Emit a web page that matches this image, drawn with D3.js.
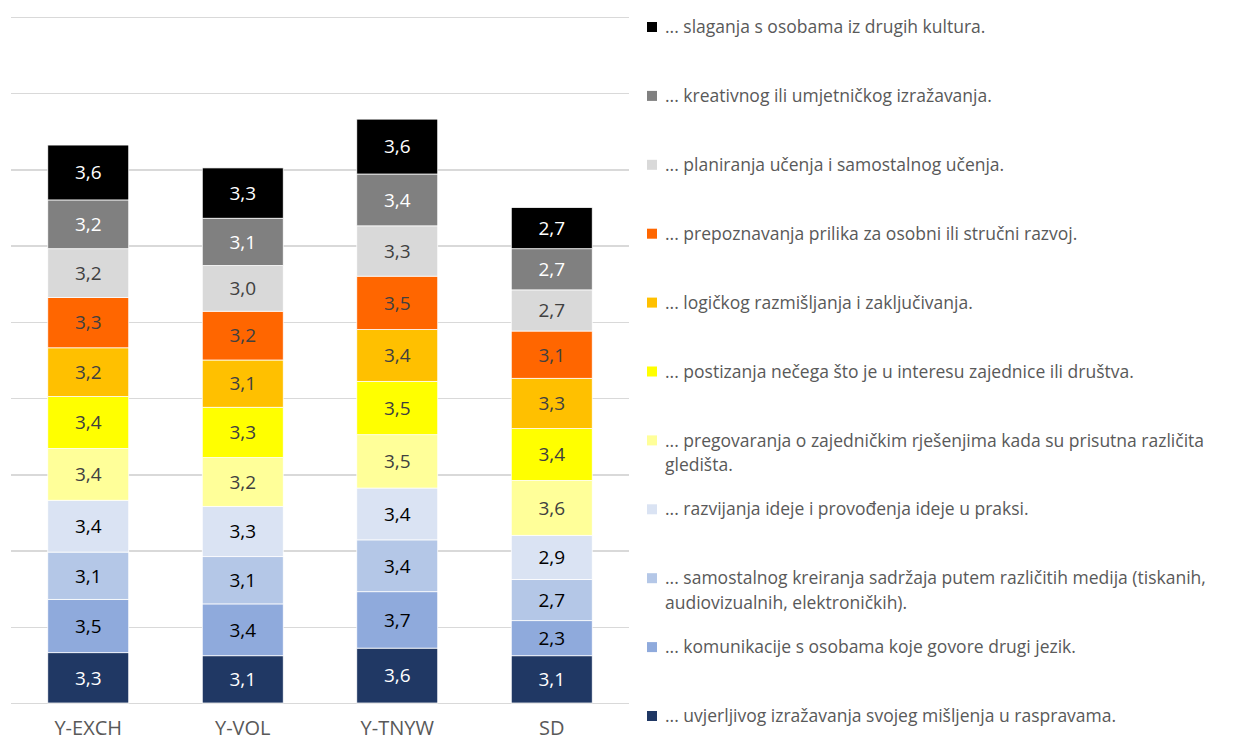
<!DOCTYPE html>
<html>
<head>
<meta charset="utf-8">
<title></title>
<style>
  body { margin: 0; background: #fff; }
  svg text { font-family: "Open Sans", sans-serif; }
  .grid line { stroke: #d9d9d9; stroke-width: 1.5; shape-rendering: crispEdges; }
  .grid path { display: none; }
  .xaxis path, .xaxis line { display: none; }
  .xaxis text { font-size: 20px; fill: #595959; }
  .legend text { font-size: 17.5px; fill: #595959; }
</style>
</head>
<body>
<script src="https://cdnjs.cloudflare.com/ajax/libs/d3/7.8.5/d3.min.js"></script>
<script>
// categories (x axis)
var categories = ["Y-EXCH", "Y-VOL", "Y-TNYW", "SD"];

// series values, bottom of the stack first
var uvjerljivog   = [3.3, 3.1, 3.6, 3.1];
var komunikacije  = [3.5, 3.4, 3.7, 2.3];
var samostalnog   = [3.1, 3.1, 3.4, 2.7];
var razvijanja    = [3.4, 3.3, 3.4, 2.9];
var pregovaranja  = [3.4, 3.2, 3.5, 3.6];
var postizanja    = [3.4, 3.3, 3.5, 3.4];
var logickog      = [3.2, 3.1, 3.4, 3.3];
var prepoznavanja = [3.3, 3.2, 3.5, 3.1];
var planiranja    = [3.2, 3.0, 3.3, 2.7];
var kreativnog    = [3.2, 3.1, 3.4, 2.7];
var slaganja      = [3.6, 3.3, 3.6, 2.7];

var seriesNames = [
  "... uvjerljivog izražavanja svojeg mišljenja u raspravama.",
  "... komunikacije s osobama koje govore drugi jezik.",
  "... samostalnog kreiranja sadržaja putem različitih medija (tiskanih, audiovizualnih, elektroničkih).",
  "... razvijanja ideje i provođenja ideje u praksi.",
  "... pregovaranja o zajedničkim rješenjima kada su prisutna različita gledišta.",
  "... postizanja nečega što je u interesu zajednice ili društva.",
  "... logičkog razmišljanja i zaključivanja.",
  "... prepoznavanja prilika za osobni ili stručni razvoj.",
  "... planiranja učenja i samostalnog učenja.",
  "... kreativnog ili umjetničkog izražavanja.",
  "... slaganja s osobama iz drugih kultura."
];
var seriesValues = [uvjerljivog, komunikacije, samostalnog, razvijanja, pregovaranja,
  postizanja, logickog, prepoznavanja, planiranja, kreativnog, slaganja];
var seriesColors = ["#203864", "#8faadc", "#b4c7e7", "#dae3f3", "#ffff99",
  "#ffff00", "#ffc000", "#ff6600", "#d9d9d9", "#808080", "#000000"];
var labelColors = ["#ffffff", "#000000", "#000000", "#000000", "#404040",
  "#404040", "#404040", "#404040", "#404040", "#ffffff", "#ffffff"];

var yTicks = [0, 5, 10, 15, 20, 25, 30, 35, 40, 45];

// build rows for d3.stack
var keys = seriesNames.map(function(d, i){ return "s" + i; });
var data = categories.map(function(c, j){
  var row = {cat: c};
  keys.forEach(function(k, i){ row[k] = seriesValues[i][j]; });
  return row;
});
var stacked = d3.stack().keys(keys)(data);

var width = 1236, height = 742;
var plot = {left: 11, right: 629, top: 17, bottom: 703};

var svg = d3.select("body").append("svg")
  .attr("width", width)
  .attr("height", height);

var x = d3.scaleBand().domain(categories)
  .range([plot.left, plot.right])
  .paddingInner(0.476).paddingOuter(0.238);
var y = d3.scaleLinear().domain([0, 45]).range([plot.bottom, plot.top]);

// gridlines
svg.append("g")
  .attr("class", "grid")
  .attr("transform", "translate(" + plot.left + ",0)")
  .call(d3.axisLeft(y).tickValues(yTicks).tickSize(-(plot.right - plot.left)).tickFormat(""));

// bars
var fmt = function(v){ return d3.format(".1f")(v).replace(".", ","); };

var layer = svg.selectAll(".layer")
  .data(stacked)
  .enter().append("g")
  .attr("class", "layer")
  .attr("fill", function(d, i){ return seriesColors[i]; });

layer.selectAll("rect")
  .data(function(d){ return d; })
  .enter().append("rect")
  .attr("x", function(d){ return x(d.data.cat); })
  .attr("width", x.bandwidth())
  .attr("y", function(d){ return y(d[1]); })
  .attr("height", function(d){ return y(d[0]) - y(d[1]); })
  .attr("stroke", "#ffffff")
  .attr("stroke-width", 0.75);

layer.each(function(s, i){
  d3.select(this).selectAll("text")
    .data(s)
    .enter().append("text")
    .attr("x", function(d){ return x(d.data.cat) + x.bandwidth() / 2; })
    .attr("y", function(d){ return (y(d[0]) + y(d[1])) / 2; })
    .attr("dy", "0.36em")
    .attr("text-anchor", "middle")
    .attr("font-size", "19px")
    .attr("fill", labelColors[i])
    .text(function(d){ return fmt(d[1] - d[0]); });
});

// x axis labels
svg.append("g")
  .attr("class", "xaxis")
  .attr("transform", "translate(0," + plot.bottom + ")")
  .call(d3.axisBottom(x).tickSize(0).tickPadding(18));

// legend, top item = top of the stack
var legend = svg.append("g").attr("class", "legend");
var slot = 68.9, legendTop = 27, maxW = 572;

seriesNames.slice().reverse().forEach(function(name, k){
  var i = seriesNames.length - 1 - k;
  var cy = legendTop + k * slot;
  legend.append("rect")
    .attr("x", 647).attr("y", cy - 5)
    .attr("width", 10).attr("height", 10)
    .attr("fill", seriesColors[i]);
  var t = legend.append("text").attr("x", 665).attr("y", cy).attr("dy", "0.35em");
  var words = name.split(" "), line = [];
  var tspan = t.append("tspan").attr("x", 665);
  words.forEach(function(w){
    line.push(w);
    tspan.text(line.join(" "));
    if (tspan.node().getComputedTextLength() > maxW && line.length > 1) {
      line.pop();
      tspan.text(line.join(" "));
      line = [w];
      tspan = t.append("tspan").attr("x", 665).attr("dy", "1.4em").text(w);
    }
  });
});
</script>
</body>
</html>
